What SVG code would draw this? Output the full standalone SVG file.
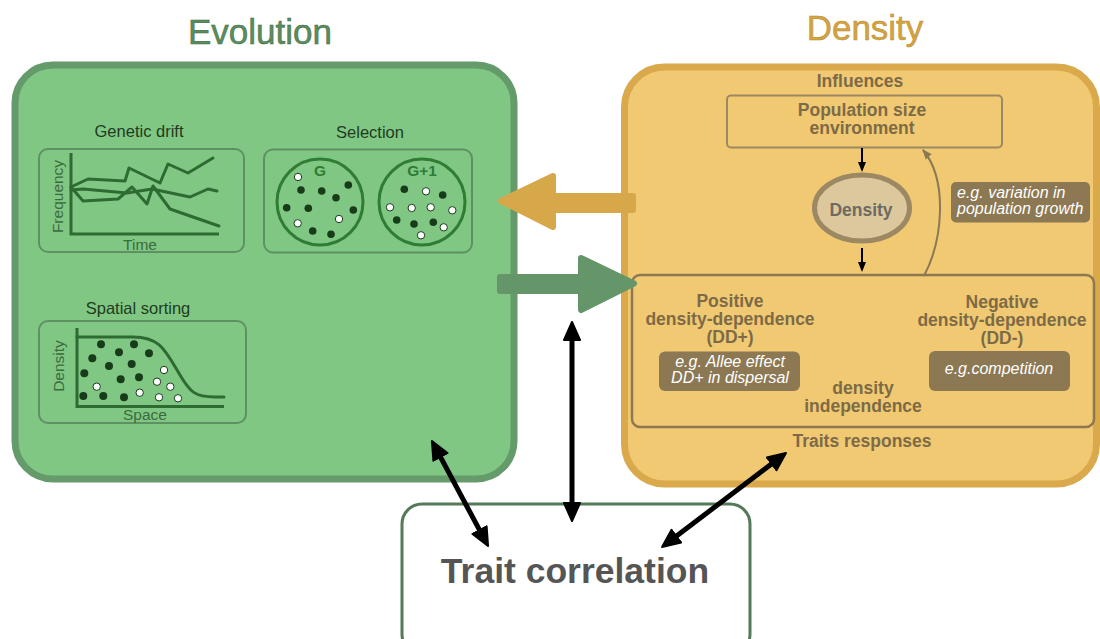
<svg xmlns="http://www.w3.org/2000/svg" width="1100" height="639" viewBox="0 0 1100 639">
<defs>
<style>
text{font-family:"Liberation Sans",Arial,sans-serif}
.title{font-size:35px;text-anchor:middle}
.gtitle{font-size:16.5px;fill:#1f3b21;text-anchor:middle}
.axlab{font-size:15.5px;fill:#3a6b3d;text-anchor:middle}
.panel{fill:none;stroke:#5f9063;stroke-width:2}
.axis{fill:none;stroke:#2e6b32;stroke-width:3}
.drift{fill:none;stroke:#2e6b32;stroke-width:3;stroke-linejoin:round;stroke-linecap:round}
.dk{fill:#183b1a}
.wh{fill:#fff;stroke:#183b1a;stroke-width:1}
.ytxt{font-size:17.5px;font-weight:bold;fill:#7d6b47;text-anchor:middle}
.lbl{fill:#8c7853}
.ltxt{font-size:16px;font-style:italic;fill:#fff}
.blk{stroke:#000;stroke-width:5;fill:none}
.thin{stroke:#000;stroke-width:2;fill:none}
</style>
<marker id="ah" viewBox="0 0 20 20" refX="7" refY="10" markerWidth="20" markerHeight="20" markerUnits="userSpaceOnUse" orient="auto-start-reverse">
<path d="M1,2 L19,10 L1,18 Z" fill="#000" stroke="#000" stroke-width="2" stroke-linejoin="round"/>
</marker>
<marker id="sh" viewBox="0 0 10 10" refX="8" refY="5" markerWidth="10" markerHeight="10" markerUnits="userSpaceOnUse" orient="auto">
<path d="M0,1 L10,5 L0,9 Z" fill="#000"/>
</marker>
<marker id="gh" viewBox="0 0 10 10" refX="9" refY="5" markerWidth="10" markerHeight="10" markerUnits="userSpaceOnUse" orient="auto">
<path d="M0,1 L10,5 L0,9 Z" fill="#8c7853"/>
</marker>
</defs>
<rect width="1100" height="639" fill="#fff"/>

<g id="evolution">
<rect x="15" y="65" width="499" height="414" rx="38" fill="#81c784" stroke="#659a6b" stroke-width="7"/>
<text class="title" x="260" y="43.5" fill="#5b8c5e" stroke="#3b6a3e" stroke-width="0.5">Evolution</text>
</g>

<g id="genetic-drift">
<text class="gtitle" x="139" y="136.5">Genetic drift</text>
<rect class="panel" x="39" y="149" width="205" height="103" rx="9"/>
<polyline class="axis" points="71,153 71,234 219,234"/>
<polyline class="drift" points="71,187 88,179 125,181 129,168 160,183 168,164 188,173 213,158"/>
<polyline class="drift" points="71,190 83,189 127,193 152,189 190,197 208,189 217,191"/>
<polyline class="drift" points="71,187 83,201 118,199 132,187 147,204 153,186 170,209 193,217 219,226"/>
<text class="axlab" transform="translate(62.5,196.5) rotate(-90)" font-size="16">Frequency</text>
<text class="axlab" x="140" y="249.5" font-size="15">Time</text>
</g>

<g id="selection">
<text class="gtitle" x="370" y="137.5" font-size="17">Selection</text>
<rect class="panel" x="264" y="149.5" width="208" height="103" rx="9"/>
<circle cx="320" cy="202" r="43" fill="none" stroke="#2e7d32" stroke-width="3"/>
<circle cx="422" cy="202" r="43" fill="none" stroke="#2e7d32" stroke-width="3"/>
<text x="320" y="176" font-size="15.5" font-weight="bold" fill="#2e7d32" text-anchor="middle">G</text>
<text x="422" y="176" font-size="15.5" font-weight="bold" fill="#2e7d32" text-anchor="middle">G+1</text>
<circle class="wh" cx="298" cy="177" r="3.7"/>
<circle class="dk" cx="301" cy="190" r="3.8"/>
<circle class="dk" cx="321.7" cy="191" r="3.8"/>
<circle class="dk" cx="348.3" cy="185" r="3.8"/>
<circle class="dk" cx="336" cy="197.7" r="3.8"/>
<circle class="dk" cx="286.7" cy="207.7" r="3.8"/>
<circle class="dk" cx="308.3" cy="208.3" r="3.8"/>
<circle class="dk" cx="353.3" cy="210" r="3.8"/>
<circle class="wh" cx="339" cy="219" r="3.7"/>
<circle class="wh" cx="297.7" cy="223.3" r="3.7"/>
<circle class="dk" cx="312.7" cy="231" r="3.8"/>
<circle class="dk" cx="331" cy="234.3" r="3.8"/>
<circle class="dk" cx="404.3" cy="189.3" r="3.8"/>
<circle class="wh" cx="426" cy="191.3" r="3.7"/>
<circle class="dk" cx="442.7" cy="195" r="3.8"/>
<circle class="wh" cx="390" cy="207.3" r="3.7"/>
<circle class="wh" cx="411.7" cy="208" r="3.7"/>
<circle class="wh" cx="430.7" cy="207.3" r="3.7"/>
<circle class="wh" cx="452.3" cy="210.3" r="3.7"/>
<circle class="dk" cx="396.7" cy="220" r="3.8"/>
<circle class="dk" cx="414" cy="224" r="3.8"/>
<circle class="dk" cx="433.3" cy="222.3" r="3.8"/>
<circle class="wh" cx="443.7" cy="227.3" r="3.7"/>
<circle class="wh" cx="421" cy="235.3" r="3.7"/>
</g>

<g id="spatial-sorting">
<text class="gtitle" x="138" y="313.5" font-size="17">Spatial sorting</text>
<rect class="panel" x="39" y="321" width="207" height="102" rx="9"/>
<polyline class="axis" points="77,328 77,406.5 224,406.5"/>
<path class="drift" d="M77,337 L133,337 C160,337 165,350 180,375 C190,392 195,397 215,397 L224,397"/>
<text class="axlab" transform="translate(64,366) rotate(-90)">Density</text>
<text class="axlab" x="145" y="420">Space</text>
<circle class="dk" cx="101" cy="344.3" r="4"/>
<circle class="dk" cx="134" cy="344.3" r="4"/>
<circle class="dk" cx="119" cy="352.3" r="4"/>
<circle class="dk" cx="149" cy="353.3" r="4"/>
<circle class="dk" cx="92.3" cy="358.3" r="4"/>
<circle class="dk" cx="109" cy="366" r="4"/>
<circle class="dk" cx="131.7" cy="364" r="4"/>
<circle class="dk" cx="84.3" cy="373.3" r="4"/>
<circle class="dk" cx="120.7" cy="379.3" r="4"/>
<circle class="dk" cx="139" cy="377.3" r="4"/>
<circle class="dk" cx="83.3" cy="396" r="4"/>
<circle class="dk" cx="103.3" cy="396" r="4"/>
<circle class="dk" cx="124" cy="397.3" r="4"/>
<circle class="wh" cx="164" cy="370" r="3.7"/>
<circle class="wh" cx="157" cy="381.7" r="3.7"/>
<circle class="wh" cx="96.7" cy="386.7" r="3.7"/>
<circle class="wh" cx="170.3" cy="386.7" r="3.7"/>
<circle class="wh" cx="139.7" cy="392.7" r="3.7"/>
<circle class="wh" cx="159" cy="397.3" r="3.7"/>
<circle class="wh" cx="178" cy="398.3" r="3.7"/>
</g>

<g id="density">
<rect x="624.5" y="67" width="472" height="417" rx="40" fill="#f1c972" stroke="#d9a94b" stroke-width="7"/>
<text class="title" x="865" y="40" fill="#d4a43f" stroke="#b88a2e" stroke-width="0.5">Density</text>
<text class="ytxt" x="860" y="86.5" font-size="16.5">Influences</text>
<text class="ytxt" x="862" y="446.5">Traits responses</text>
</g>

<g id="population">
<rect x="727" y="95.5" width="275" height="52" rx="4" fill="none" stroke="#9c8862" stroke-width="2"/>
<text class="ytxt" x="862" y="116" font-size="15.5">Population size</text>
<text class="ytxt" x="862" y="134" font-size="15.5">environment</text>
</g>

<g id="density-node">
<ellipse cx="862" cy="208" rx="47.5" ry="33" fill="#dcc89c" stroke="#9c8862" stroke-width="5"/>
<text x="861" y="216" font-size="17.5" font-weight="bold" fill="#6d6a62" text-anchor="middle">Density</text>
</g>

<g id="growth-label">
<rect class="lbl" x="951" y="182" width="139" height="40.5" rx="5"/>
<text class="ltxt" x="957" y="198" font-size="15">e.g. variation in</text>
<text class="ltxt" x="957" y="214" font-size="15">population growth</text>
</g>

<g id="responses">
<rect x="632" y="275" width="462" height="152" rx="8" fill="none" stroke="#8c7853" stroke-width="2.5"/>
<text class="ytxt" x="730" y="306.7">Positive</text>
<text class="ytxt" x="730" y="325">density-dependence</text>
<text class="ytxt" x="730" y="343.3">(DD+)</text>
<text class="ytxt" x="1002" y="307.7">Negative</text>
<text class="ytxt" x="1002" y="325.7">density-dependence</text>
<text class="ytxt" x="1002" y="344">(DD-)</text>
<text class="ytxt" x="863" y="394">density</text>
<text class="ytxt" x="863" y="412.3">independence</text>
<rect class="lbl" x="659" y="351.5" width="141" height="39.5" rx="6"/>
<text class="ltxt" x="730" y="366.7" text-anchor="middle">e.g. Allee effect</text>
<text class="ltxt" x="730" y="383.3" text-anchor="middle">DD+ in dispersal</text>
<rect class="lbl" x="929" y="351" width="141" height="40" rx="6"/>
<text class="ltxt" x="999" y="374" text-anchor="middle">e.g.competition</text>
</g>

<g id="trait-correlation">
<rect x="402" y="504" width="348" height="150" rx="20" fill="#fff" stroke="#557a59" stroke-width="3"/>
<text x="575" y="582.7" font-size="35.5" font-weight="bold" fill="#555" text-anchor="middle">Trait correlation</text>
</g>

<g id="connectors">
<path d="M633,196 L553,196 L553,176 L501,201 L553,227 L553,210 L633,210 Z" fill="#d6a84a" stroke="#d6a84a" stroke-width="6" stroke-linejoin="round"/>
<path d="M500,277 L581,277 L581,258 L634,283.5 L581,310 L581,291 L500,291 Z" fill="#649669" stroke="#649669" stroke-width="6" stroke-linejoin="round"/>
<line class="thin" x1="862" y1="148" x2="862" y2="170" marker-end="url(#sh)"/>
<line class="thin" x1="862" y1="248" x2="862" y2="270" marker-end="url(#sh)"/>
<path d="M924,276 C943,240 948,180 923,150" fill="none" stroke="#8c7853" stroke-width="2" marker-end="url(#gh)"/>
<line class="blk" x1="437.6" y1="451.6" x2="482.4" y2="535.4" marker-start="url(#ah)" marker-end="url(#ah)"/>
<line class="blk" x1="572" y1="334" x2="572" y2="509" marker-start="url(#ah)" marker-end="url(#ah)"/>
<line class="blk" x1="776.4" y1="460.2" x2="671.6" y2="539.8" marker-start="url(#ah)" marker-end="url(#ah)"/>
</g>
</svg>
